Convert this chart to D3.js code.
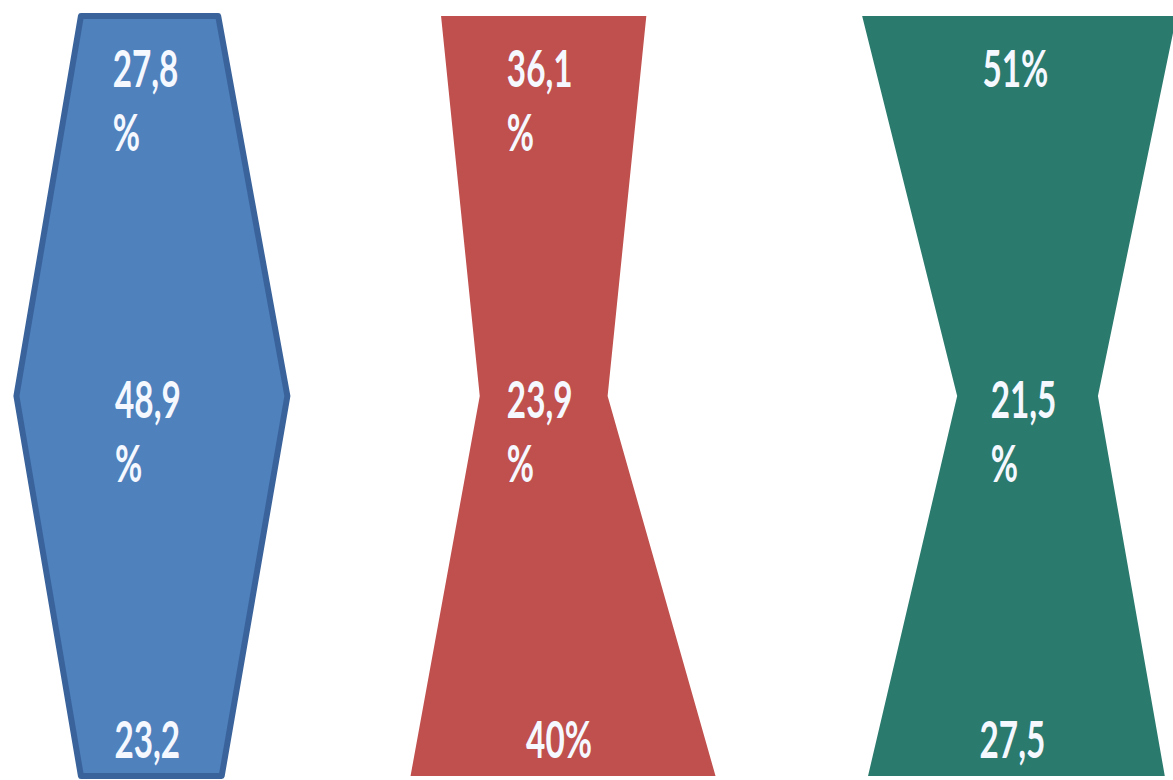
<!DOCTYPE html>
<html>
<head>
<meta charset="utf-8">
<script src="https://cdn.jsdelivr.net/npm/d3@7"></script>
<style>
  body { margin: 0; background: #fff; overflow: hidden; }
</style>
</head>
<body>
<div id="wrapper"></div>
<script>
// three columns, each split in three shares (top, middle, bottom)
const columns = ["blue", "red", "green"]
const levels = ["top", "mid", "bottom"]
const topValues = [27.8, 36.1, 51]
const midValues = [48.9, 23.9, 21.5]
const bottomValues = [23.2, 40, 27.5]

// outline of every shape:
// left / right edge at each level, in % of the chart width
const topEdges = [[6.9, 18.6], [37.6, 55.1], [73.5, 100.3]]
const midEdges = [[1.4, 24.5], [40.9, 51.8], [81.6, 93.6]]
const bottomEdges = [[6.9, 18.9], [35.0, 61.0], [74.0, 99.3]]

const colors = { blue: "#4f81bd", red: "#c0504d", green: "#2b7a6e" }

function drawShapes() {
    const dimensions = {
        width: 1173,
        height: 780,
        margin: { top: 16, bottom: 4 },
    }

    const wrapper = d3.select("#wrapper")
        .append("svg")
        .attr("width", dimensions.width)
        .attr("height", dimensions.height)

    const bounds = wrapper.append("g")

    const xScaler = d3.scaleLinear()
        .domain([0, 100])
        .range([0, dimensions.width])

    const yScaler = d3.scalePoint()
        .domain(levels)
        .range([dimensions.margin.top, dimensions.height - dimensions.margin.bottom])

    const edgesByLevel = [topEdges, midEdges, bottomEdges]
    const valuesByLevel = [topValues, midValues, bottomValues]

    // polygons: top-left, top-right, mid-right, bottom-right, bottom-left, mid-left
    const lineGen = d3.line().curve(d3.curveLinearClosed)
    const shapes = columns.map((c, i) => [
        [xScaler(topEdges[i][0]), yScaler("top")],
        [xScaler(topEdges[i][1]), yScaler("top")],
        [xScaler(midEdges[i][1]), yScaler("mid")],
        [xScaler(bottomEdges[i][1]), yScaler("bottom")],
        [xScaler(bottomEdges[i][0]), yScaler("bottom")],
        [xScaler(midEdges[i][0]), yScaler("mid")],
    ])

    bounds.append("g")
        .selectAll("path")
        .data(shapes)
        .enter()
        .append("path")
        .attr("d", d => lineGen(d))
        .attr("fill", (d, i) => colors[columns[i]])
        .attr("stroke", (d, i) => columns[i] === "blue" ? "#3a639b" : "none")
        .attr("stroke-width", 6)
        .attr("stroke-linejoin", "round")

    // labels: "27,8 %" style, wrapped on the space like the original
    const locale = d3.formatLocale({ decimal: ",", thousands: " ", grouping: [3], currency: ["", ""] })
    const fmt = locale.format(".1f")
    const labelText = v => Number.isInteger(v) ? `${v}%` : `${fmt(v)} %`

    const labelOffset = { top: 71, mid: 22, bottom: -18 }
    const lineHeight = 64

    const labelGroup = bounds.append("g")
        .attr("fill", "#f5f8ff")
        .attr("font-family", "Lato, 'Open Sans', sans-serif")
        .attr("font-weight", 700)
        .attr("font-size", 52)

    levels.forEach((level, li) => {
        valuesByLevel[li].forEach((v, i) => {
            const e = edgesByLevel[li][i]
            const cx = (xScaler(e[0]) + xScaler(e[1])) / 2
            const baseY = yScaler(level) + labelOffset[level]
            const lines = labelText(v).split(" ")
            const g = labelGroup.append("g")
                .attr("transform", `translate(${cx - 4}, ${baseY}) scale(0.64, 1)`)
            const first = g.append("text").text(lines[0])
            const w = first.node().getComputedTextLength()
            first.attr("x", -w / 2)
            // wrapped lines that would fall below the picture are not shown (as in the original)
            lines.slice(1).forEach((l, k) => {
                if (baseY + lineHeight * (k + 1) > dimensions.height) return
                g.append("text")
                    .attr("x", -w / 2)
                    .attr("y", lineHeight * (k + 1))
                    .text(l)
            })
        })
    })
}

drawShapes()
</script>
</body>
</html>
